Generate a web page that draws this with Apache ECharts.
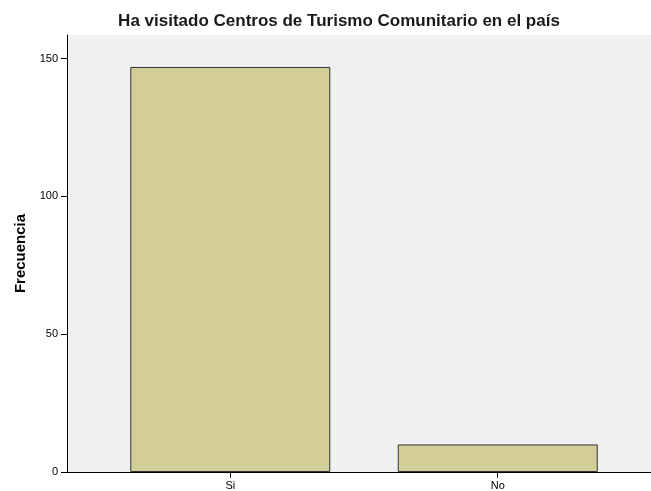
<!DOCTYPE html>
<html>
<head>
<meta charset="utf-8">
<script src="https://cdn.jsdelivr.net/npm/echarts@6/dist/echarts.min.js"></script>
<style>
  html, body { margin: 0; padding: 0; background: #fff; }
  #chart { width: 651px; height: 491px; }
</style>
</head>
<body>
<div id="chart"></div>
<script>
  // datos
  var categorias = ['Si', 'No'];
  var frecuencias = [147, 10];
  var ticksY = [0, 50, 100, 150];

  var posiciones = categorias.map(function (c, i) { return i + 1; });
  var datos = frecuencias.map(function (v, i) { return [posiciones[i], v]; });

  var myChart = echarts.init(document.getElementById('chart'));
  myChart.setOption({
    animation: false,
    textStyle: { fontFamily: 'Liberation Sans, Arial, sans-serif' },
    title: {
      text: 'Ha visitado Centros de Turismo Comunitario en el país',
      left: 334,
      top: 8,
      textAlign: 'center',
      textStyle: { fontSize: 17, fontWeight: 'bold', color: '#1a1a1a' }
    },
    grid: {
      left: 67,
      right: 0,
      top: 35,
      bottom: 19,
      show: true,
      backgroundColor: '#f0f0f0',
      borderWidth: 0
    },
    xAxis: {
      type: 'value',
      min: 0.3895,
      max: 2.573,
      splitLine: { show: false },
      axisLine: { lineStyle: { color: '#000', width: 1 } },
      axisTick: { length: 6, lineStyle: { color: '#000' }, customValues: posiciones },
      axisLabel: {
        customValues: posiciones,
        color: '#000',
        fontSize: 11,
        margin: 8,
        formatter: function (v) { return categorias[Math.round(v) - 1] || ''; }
      }
    },
    yAxis: {
      type: 'value',
      min: 0,
      max: 158.6,
      name: 'Frecuencia',
      nameLocation: 'middle',
      nameGap: 37,
      nameTextStyle: { fontSize: 15, fontWeight: 'bold', color: '#000' },
      splitLine: { show: false },
      axisLine: { show: true, lineStyle: { color: '#000', width: 1 } },
      axisTick: { show: true, length: 6, lineStyle: { color: '#000' }, customValues: ticksY },
      axisLabel: { customValues: ticksY, color: '#000', fontSize: 11, margin: 9 }
    },
    series: [{
      type: 'bar',
      barWidth: 200,
      data: datos,
      itemStyle: { color: '#d3ce97', borderColor: '#333', borderWidth: 1 }
    }]
  });
</script>
</body>
</html>
